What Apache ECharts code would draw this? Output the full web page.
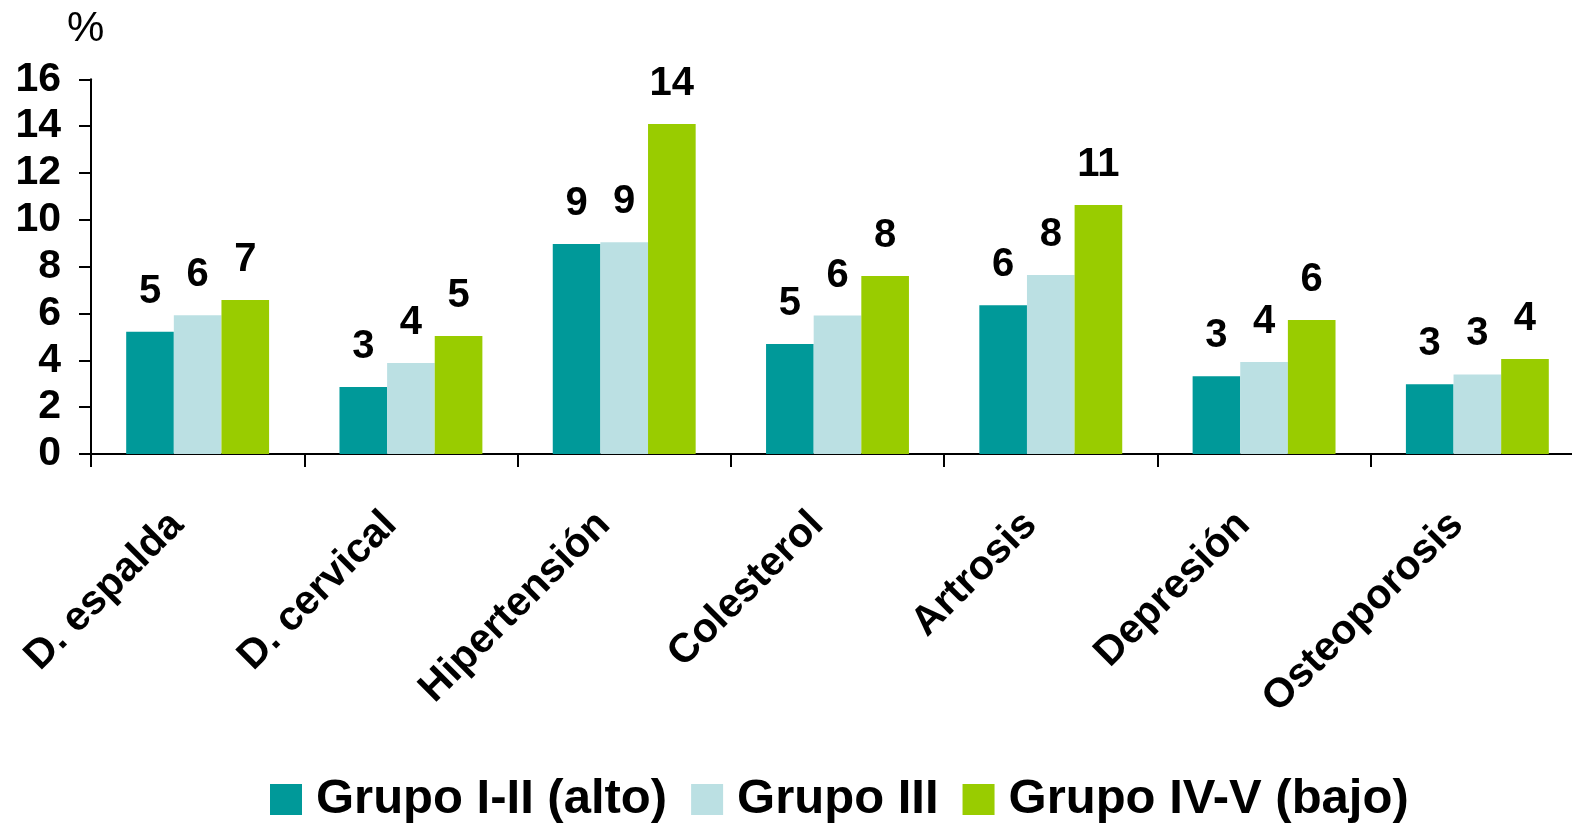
<!DOCTYPE html>
<html>
<head>
<meta charset="utf-8">
<script src="https://cdn.jsdelivr.net/npm/echarts@6/dist/echarts.min.js"></script>
<style>html,body{margin:0;padding:0;background:#fff;}#c{width:1572px;height:824px;}</style>
</head>
<body>
<div id="c"></div>
<script>
var categories = ['D. espalda', 'D. cervical', 'Hipertensión', 'Colesterol', 'Artrosis', 'Depresión', 'Osteoporosis'];
var grupoAlto = [5.22, 2.86, 8.97, 4.70, 6.35, 3.32, 2.98];
var grupoIII = [5.92, 3.89, 9.04, 5.91, 7.64, 3.93, 3.40];
var grupoBajo = [6.58, 5.04, 14.09, 7.60, 10.63, 5.72, 4.06];
var seriesNames = ['Grupo I-II (alto)', 'Grupo III', 'Grupo IV-V (bajo)'];
var colors = ['#009999', '#BBE0E3', '#99CC00'];

var FONT = '"Liberation Sans", Arial, sans-serif';
var chart = echarts.init(document.getElementById('c'));
function mk(name, data, color) {
  return {
    name: name, type: 'bar', data: data, barGap: '0%', barCategoryGap: '33%',
    itemStyle: { color: color },
    label: {
      show: true, position: 'top', distance: 20,
      fontFamily: FONT, fontWeight: 'bold', fontSize: 40, color: '#000',
      formatter: function (p) { return Math.round(p.value); }
    }
  };
}
chart.setOption({
  animation: false,
  textStyle: { fontFamily: FONT },
  title: { text: '%', left: 67, top: 8, padding: 0,
    textStyle: { fontFamily: FONT, fontWeight: 'normal', fontSize: 42, color: '#000' } },
  legend: {
    left: 265, top: 770, itemWidth: 32, itemHeight: 31, itemGap: 24,
    icon: 'rect',
    textStyle: { fontFamily: FONT, fontWeight: 'bold', fontSize: 49, color: '#000', padding: [8, 0, 0, 9] },
    data: seriesNames
  },
  grid: { left: 91, top: 79.3, width: 1493, height: 374.7, containLabel: false, outerBoundsMode: 'none' },
  xAxis: {
    type: 'category', data: categories,
    axisLine: { lineStyle: { color: '#000', width: 2 } },
    axisTick: { show: true, length: 13, lineStyle: { color: '#000', width: 2 } },
    axisLabel: { rotate: 45, margin: 44, interval: 0, padding: [0, 29, 0, 0],
      fontFamily: FONT, fontWeight: 'bold', fontSize: 41, color: '#000' }
  },
  yAxis: {
    type: 'value', min: 0, max: 16, interval: 2,
    splitLine: { show: false },
    axisLine: { show: true, lineStyle: { color: '#000', width: 2 } },
    axisTick: { show: true, length: 12, lineStyle: { color: '#000', width: 2 } },
    axisLabel: { margin: 30, fontFamily: FONT, fontWeight: 'bold', fontSize: 41, color: '#000' }
  },
  series: [
    mk(seriesNames[0], grupoAlto, colors[0]),
    mk(seriesNames[1], grupoIII, colors[1]),
    mk(seriesNames[2], grupoBajo, colors[2])
  ]
});
</script>
</body>
</html>
